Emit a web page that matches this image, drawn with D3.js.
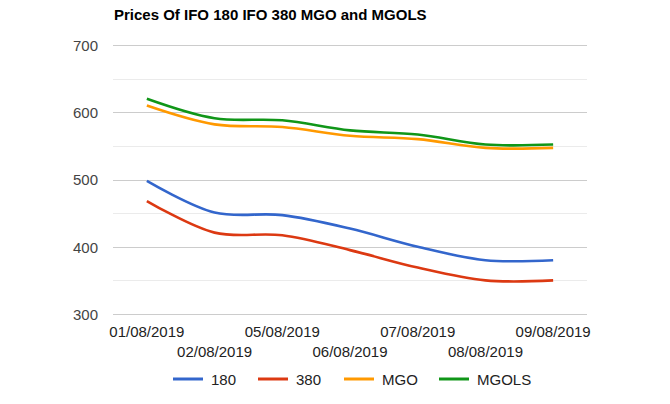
<!DOCTYPE html>
<html><head><meta charset="utf-8">
<script src="https://cdn.jsdelivr.net/npm/d3@7"></script>
<style>body{margin:0;background:#fff}svg{display:block}text{font-family:Arial,"Liberation Sans",sans-serif}</style>
</head><body>
<svg id="c" width="670" height="404"></svg>
<script>
const title = "Prices Of IFO 180 IFO 380 MGO and MGOLS";
const categories = ["01/08/2019","02/08/2019","05/08/2019","06/08/2019","07/08/2019","08/08/2019","09/08/2019"];
const seriesNames = ["180","380","MGO","MGOLS"];
const seriesColors = ["#3366cc","#dc3912","#ff9900","#109618"];
const ifo180 = [498, 451, 447, 427, 400, 380, 380];
const ifo380 = [468, 421, 417, 395, 369, 350, 350];
const mgo    = [610, 582, 578, 565, 560, 547, 547];
const mgols  = [620, 591, 588, 573, 567, 552, 552];
const yTicks = [300, 400, 500, 600, 700];
const yMinor = [350, 450, 550, 650];

const series = [ifo180, ifo380, mgo, mgols];
const svg = d3.select("#c");
const L = 113, R = 587, T = 45, B = 314;
const x = d3.scaleBand().domain(categories).range([L, R]).padding(0);
const y = d3.scaleLinear().domain([300, 700]).range([B, T]);

svg.append("text").attr("x", L + 1).attr("y", 19.5).attr("font-size", 15).attr("font-weight", "bold").attr("fill", "#000").text(title);

svg.append("g").selectAll("line").data(yMinor).join("line")
  .attr("x1", L).attr("x2", R).attr("y1", d => Math.round(y(d)) + 0.5).attr("y2", d => Math.round(y(d)) + 0.5)
  .attr("stroke", "#ebebeb").attr("stroke-width", 1);
svg.append("g").selectAll("line").data(yTicks).join("line")
  .attr("x1", L).attr("x2", R).attr("y1", d => Math.round(y(d)) + 0.5).attr("y2", d => Math.round(y(d)) + 0.5)
  .attr("stroke", "#cccccc").attr("stroke-width", 1);

const yAxis = d3.axisLeft(y).tickValues(yTicks).tickSize(0).tickPadding(0);
const ya = svg.append("g").attr("transform", `translate(${L - 15},0)`).call(yAxis);
ya.select(".domain").remove();
ya.selectAll("text").attr("font-size", 15).attr("fill", "#444").attr("font-family", "Arial, 'Liberation Sans', sans-serif").attr("dy", "0.36em");

const xa = svg.append("g").attr("transform", `translate(0,${B})`).call(d3.axisBottom(x).tickSize(0).tickPadding(0));
xa.select(".domain").remove();
xa.selectAll("text").attr("font-size", 15).attr("fill", "#222").attr("font-family", "Arial, 'Liberation Sans', sans-serif")
  .attr("dy", null).attr("y", (d, i) => i % 2 === 0 ? 23 : 43);

const line = d3.line().x((d, i) => x(categories[i]) + x.bandwidth() / 2).y(d => y(d)).curve(d3.curveCatmullRom.alpha(0.5));
svg.append("g").selectAll("path").data(series).join("path")
  .attr("d", d => line(d)).attr("fill", "none")
  .attr("stroke", (d, i) => seriesColors[i]).attr("stroke-width", 2.6).attr("stroke-linejoin", "round");

const legendX = [173, 258, 344, 439];
const lg = svg.append("g").selectAll("g").data(seriesNames).join("g").attr("transform", (d, i) => `translate(${legendX[i]},379)`);
lg.append("line").attr("x1", 0).attr("x2", 30).attr("y1", 0).attr("y2", 0).attr("stroke", (d, i) => seriesColors[i]).attr("stroke-width", 3);
lg.append("text").attr("x", 38).attr("y", 5.5).attr("font-size", 15).attr("fill", "#222").text(d => d);
</script>
</body></html>
